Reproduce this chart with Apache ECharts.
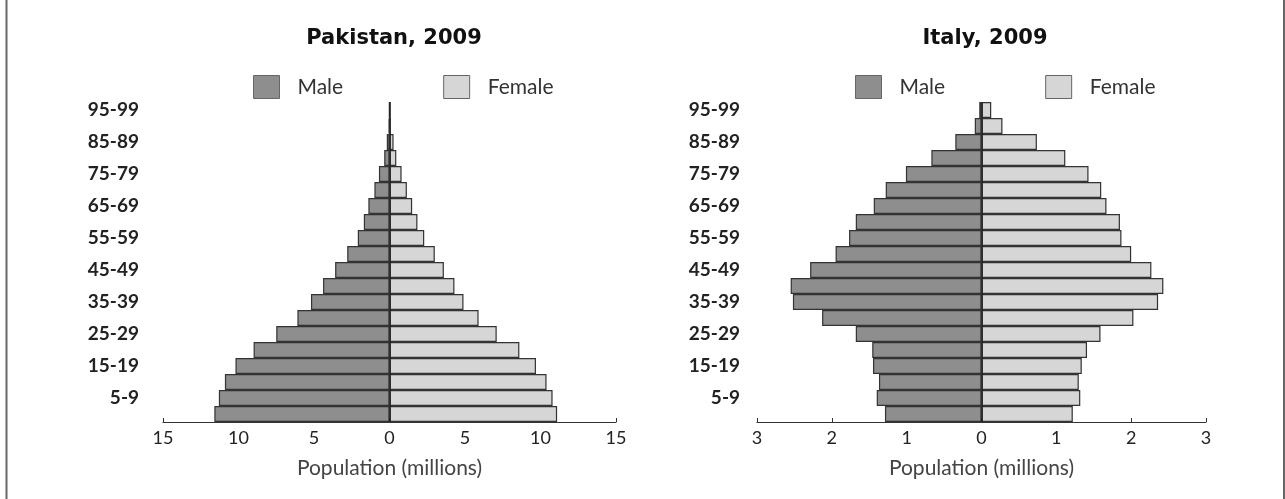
<!DOCTYPE html>
<html>
<head>
<meta charset="utf-8">
<script src="https://cdn.jsdelivr.net/npm/echarts@6/dist/echarts.min.js"></script>
<style>
html,body{margin:0;padding:0;background:#fff;}
#c{width:1285px;height:499px;}
</style>
</head>
<body>
<div id="c"></div>
<script>
// Age groups (bottom to top)
var ages = ['0-4','5-9','10-14','15-19','20-24','25-29','30-34','35-39','40-44','45-49',
            '50-54','55-59','60-64','65-69','70-74','75-79','80-84','85-89','90-94','95-99'];
// Pakistan, 2009 (millions)
var pakMale   = [11.6, 11.3, 10.9, 10.2, 9.0, 7.5, 6.1, 5.2, 4.4, 3.6, 2.8, 2.1, 1.7, 1.4, 1.0, 0.7, 0.35, 0.18, 0.06, 0.02];
var pakFemale = [11.1, 10.8, 10.4, 9.7, 8.6, 7.1, 5.9, 4.9, 4.3, 3.6, 3.0, 2.3, 1.85, 1.5, 1.15, 0.8, 0.45, 0.27, 0.08, 0.02];
// Italy, 2009 (millions)
var itaMale   = [1.29, 1.40, 1.37, 1.45, 1.46, 1.68, 2.13, 2.52, 2.55, 2.29, 1.95, 1.77, 1.68, 1.44, 1.28, 1.01, 0.67, 0.35, 0.09, 0.03];
var itaFemale = [1.22, 1.32, 1.30, 1.34, 1.41, 1.59, 2.03, 2.36, 2.43, 2.27, 2.00, 1.87, 1.85, 1.67, 1.60, 1.43, 1.12, 0.74, 0.28, 0.13];
// Tick settings
var pakTicks = {min: -15, max: 15, interval: 5};
var itaTicks = {min: -3, max: 3, interval: 1};

var FONT = 'Lato, "Open Sans", sans-serif';
var TITLE_FONT = '"DejaVu Sans", sans-serif';
var maleColor = '#8e8e8e', femaleColor = '#d6d6d6', edge = '#333';

function neg(a){ return a.map(function(v){ return -v; }); }

function xAxisFor(grid, t){
  return {
    type: 'value', gridIndex: grid, min: t.min, max: t.max, interval: t.interval,
    name: 'Population (millions)', nameLocation: 'middle', nameGap: 36,
    nameTextStyle: {fontFamily: FONT, fontSize: 21, color: '#444'},
    axisLine: {show: true, lineStyle: {color: '#333', width: 1.2}},
    axisTick: {show: true, length: 4, inside: true, lineStyle: {color: '#333'}},
    axisLabel: {fontFamily: FONT, fontSize: 18, color: '#222', margin: 7,
      formatter: function(v){ return Math.abs(v); }},
    splitLine: {show: false}
  };
}
function yAxisFor(grid, margin){
  return {
    type: 'category', gridIndex: grid, data: ages,
    axisLine: {show: false}, axisTick: {show: false},
    axisLabel: {fontFamily: FONT, fontSize: 19, fontWeight: 'bold', color: '#222', margin: margin,
      interval: function(i){ return i % 2 === 1; }},
    splitLine: {show: false}
  };
}
function barSeries(name, xi, stack, data, color, withLine){
  var s = {
    name: name, type: 'bar', stack: stack, xAxisIndex: xi, yAxisIndex: xi,
    data: data, barCategoryGap: '0%', barGap: '0%',
    itemStyle: {color: color, borderColor: edge, borderWidth: 1.2},
    silent: true
  };
  if (withLine) {
    s.markLine = {
      silent: true, symbol: ['none','none'], label: {show: false},
      lineStyle: {color: '#222', width: 1.6, type: 'solid'},
      data: [{xAxis: 0}]
    };
  }
  return s;
}
function legendFor(left){
  return {
    data: ['Male','Female'], left: left, top: 75, padding: 0, icon: 'rect',
    itemWidth: 26, itemHeight: 23, itemGap: 100,
    itemStyle: {borderColor: '#666', borderWidth: 1},
    textStyle: {fontFamily: FONT, fontSize: 21, color: '#333', padding: [0,0,0,13]},
    selectedMode: false
  };
}

var chart = echarts.init(document.getElementById('c'));
chart.setOption({
  animation: false,
  backgroundColor: '#fff',
  title: [
    {text: 'Pakistan, 2009', left: 394, top: 28, padding: 0, textAlign: 'center',
     textStyle: {fontFamily: TITLE_FONT, fontSize: 21, fontWeight: 'bold', color: '#111'}},
    {text: 'Italy, 2009', left: 985, top: 28, padding: 0, textAlign: 'center',
     textStyle: {fontFamily: TITLE_FONT, fontSize: 21, fontWeight: 'bold', color: '#111'}}
  ],
  legend: [legendFor(253), legendFor(855)],
  grid: [
    {left: 163, top: 102, width: 453, height: 320},
    {left: 757, top: 102, width: 449, height: 320}
  ],
  xAxis: [xAxisFor(0, pakTicks), xAxisFor(1, itaTicks)],
  yAxis: [yAxisFor(0, 24), yAxisFor(1, 17)],
  series: [
    barSeries('Male', 0, 'pak', neg(pakMale), maleColor, true),
    barSeries('Female', 0, 'pak', pakFemale, femaleColor, false),
    barSeries('Male', 1, 'ita', neg(itaMale), maleColor, true),
    barSeries('Female', 1, 'ita', itaFemale, femaleColor, false)
  ],
  graphic: [
    {type: 'line', shape: {x1: 6.5, y1: 0, x2: 6.5, y2: 499}, style: {stroke: '#666', lineWidth: 2}, silent: true},
    {type: 'line', shape: {x1: 1284, y1: 0, x2: 1284, y2: 499}, style: {stroke: '#666', lineWidth: 2}, silent: true}
  ]
});
</script>
</body>
</html>
